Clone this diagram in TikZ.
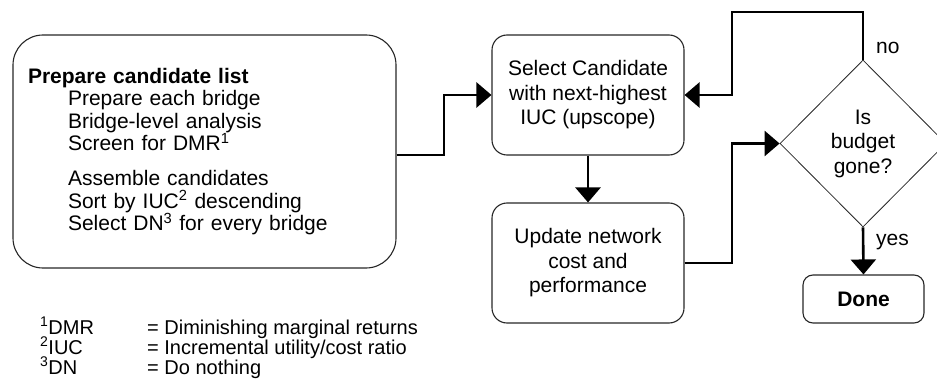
\documentclass[tikz,border=0pt]{standalone}
\usepackage{fontspec}
\setmainfont{Liberation Sans}
\usetikzlibrary{arrows.meta,shapes.geometric,calc}
\begin{document}
\begin{tikzpicture}[x=1pt,y=-1pt,
  box/.style={draw=black!85, line width=1.1pt, rounded corners=15pt, align=center, inner sep=0pt, font=\fontsize{21}{24.5}\selectfont},
  conn/.style={line width=2.6pt, -{Triangle[length=15pt,width=25pt]}},
  lbl/.style={font=\fontsize{21}{24.5}\selectfont, inner sep=0pt, anchor=base west},
  fn/.style={font=\fontsize{20}{20}\selectfont, inner sep=0pt, anchor=base west}]
\useasboundingbox (0,0) rectangle (937,385);
\node[box, rounded corners=30pt, minimum width=383pt, minimum height=233pt, text width=353pt, align=left, font=\fontsize{21}{22.5}\selectfont] (prep) at (204.5,151.5) {\textbf{Prepare candidate list}\\
\hspace*{40pt}Prepare each bridge\\
\hspace*{40pt}Bridge-level analysis\\
\hspace*{40pt}Screen for DMR\textsuperscript{1}\\[12.5pt]
\hspace*{40pt}Assemble candidates\\
\hspace*{40pt}Sort by IUC\textsuperscript{2} descending\\
\hspace*{40pt}Select DN\textsuperscript{3} for every bridge};
\node[box, minimum width=192pt, minimum height=120pt] (sel) at (588,95) {Select Candidate\\with next-highest\\IUC (upscope)};
\node[box, minimum width=192pt, minimum height=120pt] (upd) at (588,263) {Update network\\cost and\\performance};
\node[draw=black!85, diamond, line width=0.8pt, minimum width=166pt, minimum height=167pt, inner sep=0pt, align=center, font=\fontsize{21}{24.5}\selectfont] (dia) at (863,143.5) {Is\\budget\\gone?};
\node[box, rounded corners=10pt, minimum width=121pt, minimum height=48pt] (done) at (863.5,299) {\textbf{Done}};
\coordinate (k1) at (444,125);
\coordinate (k2) at (732,12);
\coordinate (k3) at (732,200);
\draw[conn] ([yshift=-3.5pt]prep.east) -| (k1) |- (sel.west);
\draw[conn] (sel.south) -- (upd.north);
\draw[conn] (dia.north) |- (k2) |- (sel.east);
\draw[conn] (upd.east) -| (k3) |- (dia.west);
\draw[conn] (dia.south) -- (done.north);
\node[lbl] (no) at (876,54) {no};
\node[lbl] (yes) at (876,245) {yes};
\node[fn] (f1a) at (40,334) {\textsuperscript{1}DMR};
\node[fn] (f1b) at (147,334) {= Diminishing marginal returns};
\node[fn] (f2a) at (40,354) {\textsuperscript{2}IUC};
\node[fn] (f2b) at (147,354) {= Incremental utility/cost ratio};
\node[fn] (f3a) at (40,374) {\textsuperscript{3}DN};
\node[fn] (f3b) at (147,374) {= Do nothing};
\end{tikzpicture}
\end{document}
